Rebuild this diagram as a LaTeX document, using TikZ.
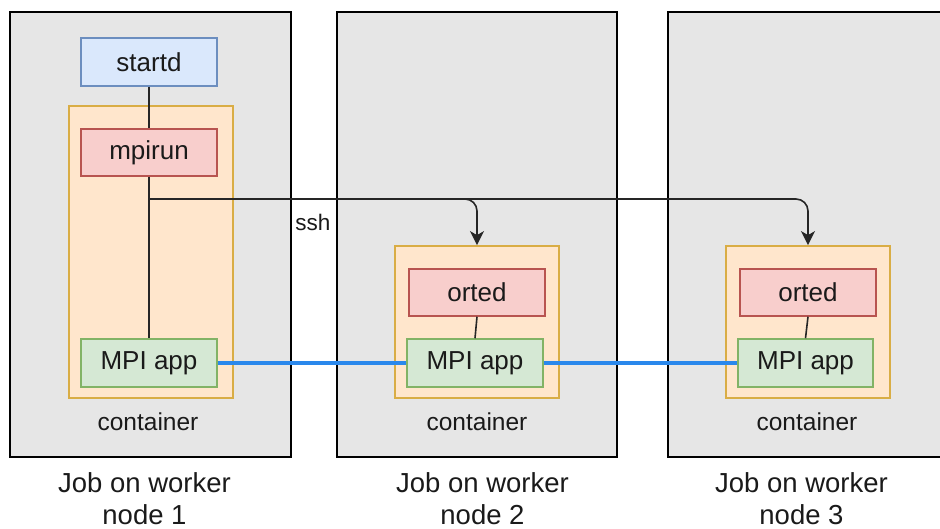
\documentclass[tikz,border=0pt]{standalone}
\usepackage{fontspec}
\setmainfont{Liberation Sans}
\usetikzlibrary{arrows.meta}
\definecolor{jobfill}{HTML}{E6E6E6}
\definecolor{bluefill}{HTML}{DAE8FC}
\definecolor{bluestroke}{HTML}{6C8EBF}
\definecolor{redfill}{HTML}{F8CECC}
\definecolor{redstroke}{HTML}{B85450}
\definecolor{greenfill}{HTML}{D5E8D4}
\definecolor{greenstroke}{HTML}{82B366}
\definecolor{contfill}{HTML}{FFE6CC}
\definecolor{contstroke}{HTML}{D9AD45}
\definecolor{linkblue}{HTML}{2A88EC}
\definecolor{txt}{HTML}{1A1A1A}
\tikzset{
  jobbox/.style={draw=black, fill=jobfill, line width=2pt},
  contbox/.style={draw=contstroke, fill=contfill, line width=1.8pt},
  proc/.style={line width=1.5pt, inner sep=0pt, text=txt, font=\fontsize{26}{30}\selectfont},
  startbox/.style={proc, draw=bluestroke, fill=bluefill},
  redbox/.style={proc, draw=redstroke, fill=redfill},
  appbox/.style={proc, draw=greenstroke, fill=greenfill},
  lbl/.style={inner sep=0pt, text=txt},
  conn/.style={draw=black!85, line width=1.6pt},
  sshconn/.style={conn, rounded corners=12pt, -{Stealth[length=14pt,width=14pt,inset=4pt]}},
  mpilink/.style={draw=linkblue, line width=3.2pt},
}
\begin{document}
\begin{tikzpicture}[x=1pt,y=-1pt]
\clip (0,0) rectangle (940,529);
\fill[white] (0,0) rectangle (940,529);
% job boxes
\path[jobbox] (10,12) rectangle (291,457);
\path[jobbox] (337,12) rectangle (617,457);
\path[jobbox] (668,12) rectangle (945,457);
% containers
\node[contbox, minimum width=164pt, minimum height=292pt, inner sep=0pt] (cont1) at (151,252) {};
\node[contbox, minimum width=164pt, minimum height=152pt, inner sep=0pt] (cont2) at (477,322) {};
\node[contbox, minimum width=164pt, minimum height=152pt, inner sep=0pt] (cont3) at (808,322) {};
% process boxes
\node[startbox, minimum width=136pt, minimum height=48pt] (startd) at (149,62) {startd};
\node[redbox, minimum width=136pt, minimum height=47pt] (mpirun) at (149,152.5) {mpirun};
\node[appbox, minimum width=136pt, minimum height=48pt] (app1) at (149,363) {MPI app};
\node[redbox, minimum width=136pt, minimum height=47pt] (orted2) at (477,292.5) {orted};
\node[appbox, minimum width=136pt, minimum height=48pt] (app2) at (475,363) {MPI app};
\node[redbox, minimum width=136pt, minimum height=47pt] (orted3) at (808,292.5) {orted};
\node[appbox, minimum width=135pt, minimum height=48pt] (app3) at (805.5,363) {MPI app};
% connectors
\draw[conn] (startd.south) -- (mpirun.north);
\draw[conn] (mpirun.south) -- (app1.north);
\coordinate (branch) at (149,199);
\draw[sshconn] (branch) -| (cont2.north);
\draw[sshconn] (branch) -| (cont3.north);
\draw[conn] (orted2.south) -- (app2.north);
\draw[conn] (orted3.south) -- (app3.north);
\draw[mpilink] (app1.east) -- (app2.west);
\draw[mpilink] (app2.east) -- (app3.west);
% labels
\node[lbl, font=\fontsize{22.5}{26}\selectfont] (sshlbl) at (313,222) {ssh};
\node[lbl, font=\fontsize{24.5}{28}\selectfont] (clbl1) at (148,422) {container};
\node[lbl, font=\fontsize{24.5}{28}\selectfont] (clbl2) at (477,422) {container};
\node[lbl, font=\fontsize{24.5}{28}\selectfont] (clbl3) at (807,422) {container};
\node[lbl, align=center, font=\fontsize{27.5}{32}\selectfont] (job1) at (144.5,499) {Job on worker\\node 1};
\node[lbl, align=center, font=\fontsize{27.5}{32}\selectfont] (job2) at (482.5,499) {Job on worker\\node 2};
\node[lbl, align=center, font=\fontsize{27.5}{32}\selectfont] (job3) at (801.5,499) {Job on worker\\node 3};
\end{tikzpicture}
\end{document}
